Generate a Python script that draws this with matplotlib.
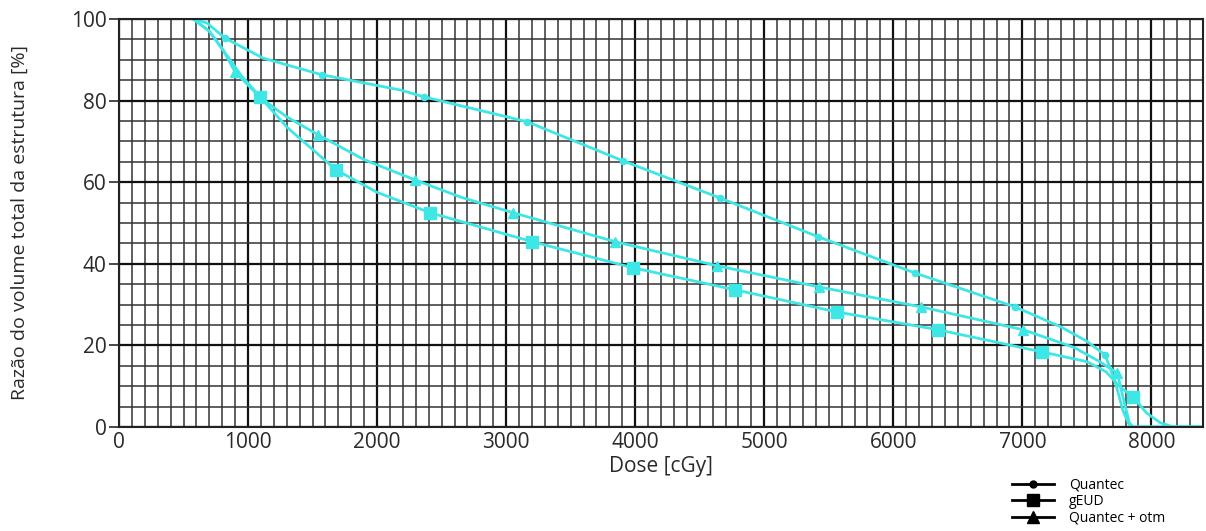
import matplotlib as mpl
mpl.use('Agg')
import matplotlib.pyplot as plt
from matplotlib.lines import Line2D

plt.rcParams['font.family'] = ['Open Sans', 'DejaVu Sans']

CYAN = '#3ee6e6'

# Quantec (circle markers)
q_dose = [574, 682, 822, 1116, 1574, 2178, 2364, 3163, 3907, 4659, 5419, 6171, 6946, 7300, 7500, 7643, 7720, 7780, 7830, 7860, 8400]
q_vol  = [100, 99.0, 95.3, 90.4, 86.3, 82.6, 80.9, 74.8, 65.2, 56.1, 46.6, 37.7, 29.4, 24.5, 21.0, 17.6, 11.0, 4.0, 0.4, 0, 0]
q_mark = [2, 4, 6, 7, 8, 9, 10, 11, 12, 15]

# gEUD (square markers)
g_dose = [574, 700, 806, 950, 1093, 1300, 1682, 2000, 2411, 3202, 3984, 4775, 5560, 6350, 7150, 7500, 7650, 7750, 7860, 7960, 8070, 8170, 8400]
g_vol  = [100, 97.0, 92.4, 86.0, 80.9, 73.5, 63.0, 57.5, 52.5, 45.4, 39.0, 33.6, 28.2, 23.8, 18.4, 16.0, 13.5, 10.0, 7.3, 3.5, 1.0, 0, 0]
g_mark = [4, 6, 8, 9, 10, 11, 12, 13, 14, 18]

# Quantec + otm (triangle markers)
t_dose = [574, 700, 806, 899, 1100, 1300, 1543, 1900, 2290, 2650, 3054, 3845, 4636, 5427, 6218, 7009, 7400, 7600, 7736, 7790, 7830, 7860, 8400]
t_vol  = [100, 97.0, 92.4, 87.0, 80.6, 76.0, 71.6, 65.5, 60.6, 56.3, 52.5, 45.4, 39.5, 34.3, 29.4, 23.8, 19.5, 16.0, 13.2, 6.0, 1.0, 0, 0]
t_mark = [3, 6, 8, 10, 11, 12, 13, 14, 15, 18]

fig = plt.figure(figsize=(12.06, 5.31), dpi=100)
ax = fig.add_axes([0.0987, 0.196, 0.8988, 0.7683])

ax.plot(q_dose, q_vol, '-', color=CYAN, lw=2.0, marker='o', ms=4.5, markevery=q_mark)
ax.plot(g_dose, g_vol, '-', color=CYAN, lw=2.0, marker='s', ms=8.5, markevery=g_mark)
ax.plot(t_dose, t_vol, '-', color=CYAN, lw=2.0, marker='^', ms=7.5, markevery=t_mark)

ax.set_xlim(0, 8400)
ax.set_ylim(0, 100)
ax.set_xticks(range(0, 8001, 1000))
ax.set_xticks(range(0, 8401, 100), minor=True)
ax.set_yticks(range(0, 101, 20))
ax.set_yticks(range(0, 101, 5), minor=True)
ax.grid(which='major', color='#111111', lw=1.6)
ax.grid(which='minor', color='#333333', lw=1.1)
ax.set_axisbelow(True)
for s in ax.spines.values():
    s.set_color('#222222')
    s.set_linewidth(1.5)

ax.tick_params(axis='x', which='both', length=0, labelsize=15, colors='#2a2a2a', pad=4)
ax.tick_params(axis='y', which='major', length=7, width=1.2, labelsize=15, colors='#2a2a2a', pad=2)
ax.tick_params(axis='y', which='minor', length=0)

ax.set_xlabel('Dose [cGy]', fontsize=15, color='#2a2a2a', labelpad=2)
ax.set_ylabel('Razão do volume total da estrutura [%]', fontsize=14, color='#2a2a2a', labelpad=30)

handles = [Line2D([], [], color='black', lw=2.0, marker='o', ms=5),
           Line2D([], [], color='black', lw=2.0, marker='s', ms=9),
           Line2D([], [], color='black', lw=2.0, marker='^', ms=8)]
fig.legend(handles, ['Quantec', 'gEUD', 'Quantec + otm'], loc='lower left',
           bbox_to_anchor=(0.829, -0.014), frameon=False, fontsize=10,
           handlelength=3.0, labelspacing=0.12, handletextpad=1.1)

plt.savefig('out.png', dpi=100)
